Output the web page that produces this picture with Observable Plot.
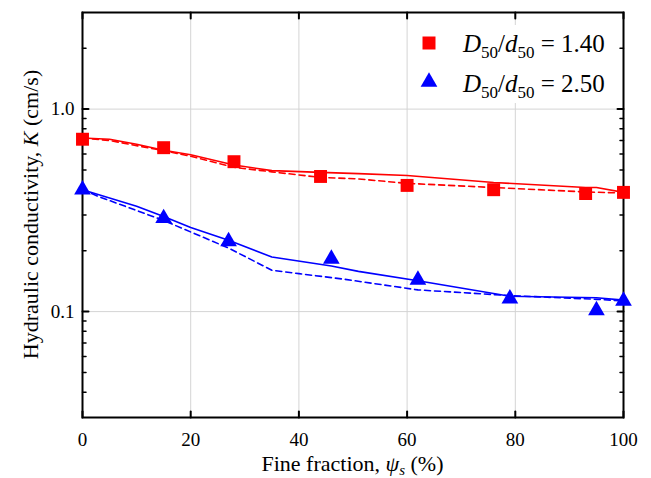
<!DOCTYPE html>
<html><head><meta charset="utf-8">
<script src="https://cdn.jsdelivr.net/npm/d3@7"></script>
<script src="https://cdn.jsdelivr.net/npm/@observablehq/plot@0.6"></script>
<style>
body{margin:0;background:#fff;}
#wrap{width:651px;height:478px;}
svg text{font-family:"Liberation Serif",serif !important;}
</style></head><body><div id="wrap"></div>
<script>
// Measured data
const redX = [0, 15, 28, 44, 60, 76, 93, 100];
const redK = [0.71, 0.645, 0.55, 0.465, 0.42, 0.40, 0.383, 0.388];
const blueX = [0, 15, 27, 46, 62, 79, 95, 100];
const blueK = [0.40, 0.289, 0.222, 0.182, 0.1435, 0.116, 0.1015, 0.113];

// Model curves (solid / dashed)
const redSolidX = [0, 5, 10, 15, 20, 28, 35, 44, 51, 60, 76, 93, 95, 100];
const redSolidK = [0.72, 0.71, 0.67, 0.627, 0.595, 0.53, 0.497, 0.487, 0.48, 0.47, 0.434, 0.41, 0.41, 0.388];
const redDashX = [0, 5, 10, 15, 20, 28, 35, 44, 51, 60, 76, 93, 100];
const redDashK = [0.72, 0.70, 0.66, 0.623, 0.585, 0.516, 0.49, 0.46, 0.452, 0.43, 0.41, 0.39, 0.385];
const blueSolidX = [0, 10, 15, 20, 27, 35, 46, 51, 62, 79, 95, 100];
const blueSolidK = [0.40, 0.331, 0.295, 0.26, 0.225, 0.186, 0.168, 0.158, 0.142, 0.119, 0.117, 0.114];
const blueDashX = [0, 3, 15, 27, 35, 40, 48, 62, 79, 95, 100];
const blueDashK = [0.40, 0.37, 0.282, 0.206, 0.16, 0.154, 0.145, 0.128, 0.12, 0.115, 0.113];

const xTicks = [0, 20, 40, 60, 80, 100];
const yTicks = [0.1, 1.0];
const yMinor = [0.04, 0.05, 0.06, 0.07, 0.08, 0.09, 0.2, 0.3, 0.4, 0.5, 0.6, 0.7, 0.8, 0.9, 2];
const legendLabels = ["1.40", "2.50"];

const zip = (xs, ys) => xs.map((x, i) => ({x, y: ys[i]}));
const red = zip(redX, redK), blue = zip(blueX, blueK);
const redS = zip(redSolidX, redSolidK), redD = zip(redDashX, redDashK);
const blueS = zip(blueSolidX, blueSolidK), blueD = zip(blueDashX, blueDashK);

const FONT = "Liberation Serif";
const tickShape = {draw(context, l) { context.moveTo(0, 0); context.lineTo(0, -l); }};
const tick = (data, channel, frameAnchor, rotate, length, sw) =>
  Plot.vector(data, {[channel]: d => d, frameAnchor, rotate, length, anchor: "start",
    shape: tickShape, stroke: "#000", strokeWidth: sw});

const chart = Plot.plot({
  width: 651, height: 478,
  marginLeft: 82, marginRight: 28, marginTop: 12, marginBottom: 61,
  style: {fontFamily: FONT, background: "#fff", color: "#000"},
  x: {domain: [0, 100], axis: null},
  y: {type: "log", domain: [0.03, 3], axis: null},
  marks: [
    Plot.gridX([20, 40, 60, 80], {stroke: "#d4d4d4", strokeOpacity: 1, strokeWidth: 1}),
    Plot.gridY(yTicks, {stroke: "#d4d4d4", strokeOpacity: 1, strokeWidth: 1}),
    Plot.line(redS, {x: "x", y: "y", stroke: "#ff0000", strokeWidth: 1.6}),
    Plot.line(redD, {x: "x", y: "y", stroke: "#ff0000", strokeWidth: 1.6, strokeDasharray: "6,4"}),
    Plot.line(blueS, {x: "x", y: "y", stroke: "#0000ff", strokeWidth: 1.6}),
    Plot.line(blueD, {x: "x", y: "y", stroke: "#0000ff", strokeWidth: 1.6, strokeDasharray: "6,4"}),
    tick(xTicks, "x", "bottom", 0, 6, 2),
    tick(xTicks, "x", "top", 180, 6, 2),
    tick(yTicks, "y", "left", 90, 6, 2),
    tick(yTicks, "y", "right", -90, 6, 2),
    tick(yMinor, "y", "left", 90, 3.5, 1.5),
    tick(yMinor, "y", "right", -90, 3.5, 1.5),
    Plot.frame({stroke: "#000", strokeWidth: 2}),
    Plot.axisX(xTicks, {anchor: "bottom", tickSize: 0, tickPadding: 15, fontSize: 19, label: null}),
    Plot.axisY(yTicks, {anchor: "left", tickSize: 0, tickPadding: 8, fontSize: 19, tickFormat: d3.format(".1f"), label: null}),
    Plot.dot(red, {x: "x", y: "y", symbol: "square", r: 7.3, fill: "#ff0000", stroke: "none"}),
    Plot.dot(blue, {x: "x", y: "y", symbol: "triangle", r: 6.2, fill: "#0000ff", stroke: "none"})
  ]
});

document.getElementById("wrap").appendChild(chart);

const svg = d3.select(chart);
// Axis titles with italic parts
const xt = svg.append("text").attr("x", 352.5).attr("y", 471).attr("text-anchor", "middle")
  .attr("font-family", FONT).attr("font-size", 22).attr("fill", "#000");
xt.append("tspan").text("Fine fraction, ");
xt.append("tspan").attr("font-style", "italic").text("ψ");
xt.append("tspan").attr("font-style", "italic").attr("font-size", 15).attr("dy", 4).text("s");
xt.append("tspan").attr("dy", -4).text(" (%)");

const yt = svg.append("text").attr("transform", "translate(38,214.5) rotate(-90)").attr("text-anchor", "middle")
  .attr("font-family", FONT).attr("font-size", 22).attr("fill", "#000");
yt.append("tspan").text("Hydraulic conductivity, ");
yt.append("tspan").attr("font-style", "italic").text("K");
yt.append("tspan").text(" (cm/s)");

// Legend
const lg = svg.append("g");
lg.append("rect").attr("x", 412).attr("y", 25).attr("width", 204).attr("height", 78).attr("fill", "#fff");
lg.append("path").attr("transform", "translate(429,43)").attr("d", d3.symbol(d3.symbolSquare, 13 * 13)()).attr("fill", "#ff0000");
lg.append("path").attr("transform", "translate(429,82)").attr("d", d3.symbol(d3.symbolTriangle, Math.PI * 6.2 * 6.2)()).attr("fill", "#0000ff");
[52, 92].forEach((by, i) => {
  const t = lg.append("text").attr("x", 463).attr("y", by).attr("text-anchor", "start")
    .attr("font-family", FONT).attr("font-size", 25).attr("fill", "#000");
  t.append("tspan").attr("font-style", "italic").text("D");
  t.append("tspan").attr("font-size", 17).attr("dy", 6).text("50");
  t.append("tspan").attr("dy", -6).text("/");
  t.append("tspan").attr("font-style", "italic").text("d");
  t.append("tspan").attr("font-size", 17).attr("dy", 6).text("50");
  t.append("tspan").attr("dy", -6).text(" = " + legendLabels[i]);
});
</script>
</body></html>
